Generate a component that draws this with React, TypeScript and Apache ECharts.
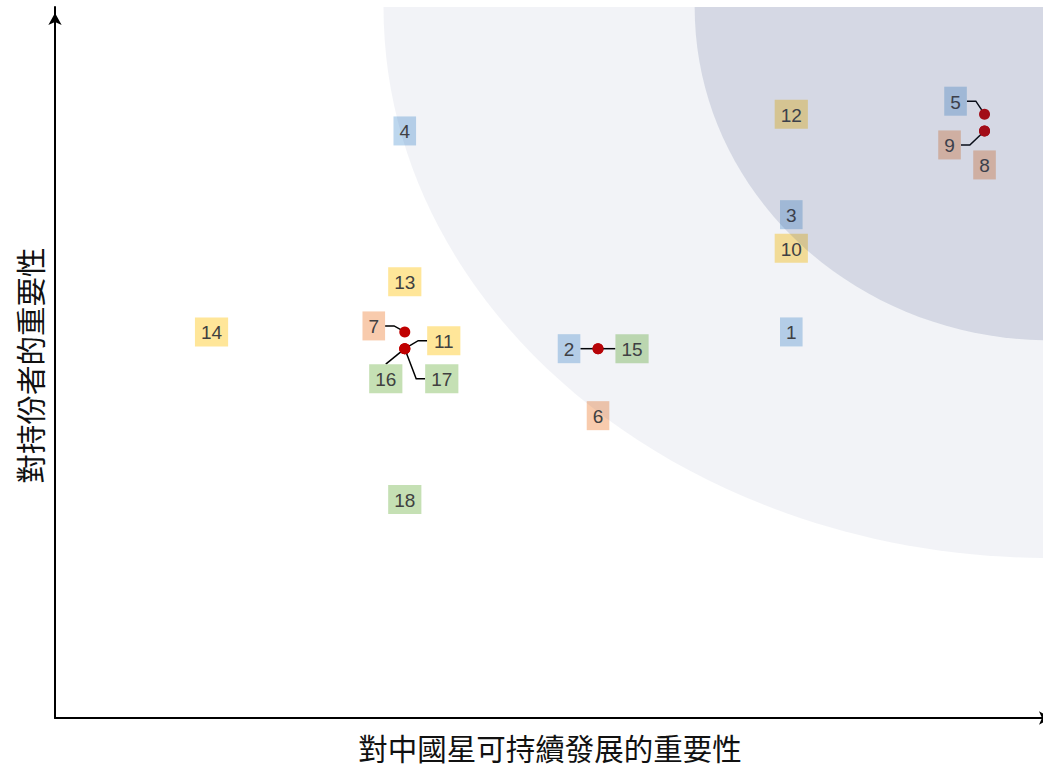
import React, { useEffect, useRef } from "react";
import * as echarts from "echarts";

// ---- data ----
const itemIds = ["1","2","3","4","5","6","7","8","9","10","11","12","13","14","15","16","17","18"];
// importance to the company's sustainable development (x)
const starImportance = [4, 3, 4, 2, 5, 3, 2, 5, 5, 4, 2, 4, 2, 1, 3, 2, 2, 2];
// importance to stakeholders (y)
const stakeholderImportance = [3.0, 2.9, 3.7, 4.2, 4.3, 2.5, 3.0, 4.2, 4.2, 3.5, 2.9, 4.3, 3.3, 3.0, 2.9, 2.9, 2.9, 2.0];
const itemGroup = [0, 0, 0, 0, 0, 1, 1, 1, 1, 2, 2, 2, 2, 2, 3, 3, 3, 3];
const groupColors = ["#bdd7ee", "#f8cbad", "#ffe699", "#c5e0b4"];

const xAxisName = "對中國星可持續發展的重要性";
const yAxisName = "對持份者的重要性";

// priority zones (data units): centre, radii
const zoneCenterX = [5.34, 5.34];
const zoneCenterY = [4.94, 4.94];
const zoneRadiusX = [3.45, 1.84];
const zoneRadiusY = [3.29, 1.99];
const zoneColors = ["rgba(45,70,120,0.064)", "rgba(45,70,120,0.15)"];

// ---- label layout (pixels relative to point) ----
const labelDx = [0, -29, 0, 0, -29, 0, -31, 0, -35, 0, 39, 0, 0, 0, 34, -19, 37, 0];
const labelDy = [0, 0, 0, 0, -13, 0, -6, 34, 14, 0, -8, 0, 0, 0, 0, 30, 30, 0];
// 0: no leader/dot, 1: elbow leader, 2: straight leader from top, 3: dot only
const leaderType = [0, 1, 0, 0, 1, 0, 1, 3, 1, 0, 1, 0, 0, 0, 1, 2, 1, 0];

export default function App() {
  const ref = useRef<HTMLDivElement>(null);
  useEffect(() => {
    if (!ref.current) return;
    const chart = echarts.init(ref.current, null, { renderer: "svg" });
    const pointData = itemIds.map((_, i) => [starImportance[i], stakeholderImportance[i], i]);
    const zoneData = zoneCenterX.map((_, i) => [zoneCenterX[i], zoneCenterY[i], zoneRadiusX[i], zoneRadiusY[i], i]);
    const axisLine = {
      show: true,
      symbol: ["none", "arrow"],
      symbolSize: [10, 12],
      symbolOffset: [0, -6],
      lineStyle: { color: "#000", width: 2 },
    };
    chart.setOption({
      animation: false,
      backgroundColor: "#fff",
      grid: { left: 55, top: 7, right: 18, bottom: 50 },
      xAxis: {
        type: "value",
        min: 0.19,
        max: 5.375,
        name: xAxisName,
        nameLocation: "middle",
        nameGap: 14,
        nameTextStyle: { fontSize: 29.5, color: "#111", fontFamily: "Noto Sans CJK TC", padding: [0, 12, 0, 0] },
        axisLine,
        axisTick: { show: false },
        axisLabel: { show: false },
        splitLine: { show: false },
      },
      yAxis: {
        type: "value",
        min: 0.695,
        max: 4.94,
        name: yAxisName,
        nameLocation: "middle",
        nameGap: 11,
        nameTextStyle: { fontSize: 29.5, color: "#111", fontFamily: "Noto Sans CJK TC", padding: [0, 6, 0, 0] },
        axisLine,
        axisTick: { show: false },
        axisLabel: { show: false },
        splitLine: { show: false },
      },
      series: [
        {
          type: "custom",
          z: 2,
          data: pointData,
          encode: { x: 0, y: 1 },
          renderItem: (params: any, api: any) => {
            const i = api.value(2);
            const p = api.coord([api.value(0), api.value(1)]);
            const text = itemIds[i];
            const w = 12 + 10.6 * text.length;
            const h = 29;
            const cx = p[0] + labelDx[i];
            const cy = p[1] + labelDy[i];
            const t = leaderType[i];
            const children: any[] = [];
            if (t === 1) {
              const sgn = labelDx[i] < 0 ? 1 : -1;
              const ex = cx + (sgn * w) / 2;
              const bx = ex + sgn * 9;
              children.push({
                type: "polyline",
                shape: { points: [[ex, cy], [bx, cy], [p[0], p[1]]] },
                style: { stroke: "#000", lineWidth: 1.5, fill: null },
              });
            } else if (t === 2) {
              children.push({
                type: "line",
                shape: { x1: cx, y1: cy - h / 2, x2: p[0], y2: p[1] },
                style: { stroke: "#000", lineWidth: 1.5 },
              });
            }
            if (t !== 0) {
              children.push({
                type: "circle",
                shape: { cx: p[0], cy: p[1], r: 5.5 },
                style: { fill: "#c00000" },
              });
            }
            children.push({
              type: "rect",
              shape: { x: cx - w / 2, y: cy - h / 2, width: w, height: h },
              style: { fill: groupColors[itemGroup[i]] },
            });
            children.push({
              type: "text",
              x: cx,
              y: cy + 1,
              style: {
                text,
                fill: "#404040",
                fontSize: 19,
                fontFamily: "Liberation Sans, Arial",
                align: "center",
                verticalAlign: "middle",
              },
            });
            return { type: "group", children };
          },
        },
        {
          type: "custom",
          z: 5,
          silent: true,
          clip: true,
          data: zoneData,
          encode: { x: 0, y: 1 },
          renderItem: (params: any, api: any) => {
            const i = api.value(4);
            const p = api.coord([api.value(0), api.value(1)]);
            const s = api.size([api.value(2), api.value(3)]);
            const cs = params.coordSys;
            return {
              type: "ellipse",
              shape: { cx: p[0], cy: p[1], rx: s[0], ry: s[1] },
              style: { fill: zoneColors[i] },
              clipPath: { type: "rect", shape: { x: cs.x, y: cs.y, width: cs.width, height: cs.height } },
            };
          },
        },
      ],
    });
    return () => chart.dispose();
  }, []);
  return (
    <div style={{ position: "fixed", left: 0, top: 0, width: 1043, height: 768, overflow: "hidden", background: "#fff" }}>
      <div ref={ref} style={{ width: 1075, height: 768 }} />
    </div>
  );
}
